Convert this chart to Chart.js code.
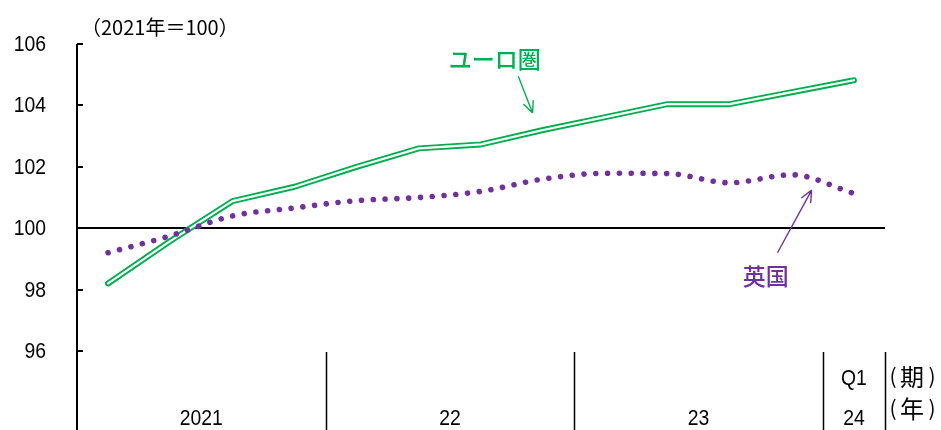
<!DOCTYPE html>
<html>
<head>
<meta charset="utf-8">
<script src="https://cdn.jsdelivr.net/npm/chart.js@4/dist/chart.umd.min.js"></script>
<style>
  html, body { margin: 0; padding: 0; background: #fff; }
  #wrap { width: 941px; height: 430px; position: relative; }
</style>
</head>
<body>
<div id="wrap"><canvas id="c"></canvas></div>
<script>
// Quarterly index, 2021 average = 100
const quarters = ['2021Q1','2021Q2','2021Q3','2021Q4','2022Q1','2022Q2','2022Q3','2022Q4',
                  '2023Q1','2023Q2','2023Q3','2023Q4','2024Q1'];
const euroArea = [98.2, 99.58, 100.88, 101.35, 102.0, 102.6, 102.73, 103.2, 103.62, 104.04, 104.04, 104.43, 104.82];
const uk       = [99.2, 99.75, 100.4, 100.66, 100.9, 101.0, 101.2, 101.6, 101.79, 101.78, 101.48, 101.74, 101.13];
const yTicks   = [96, 98, 100, 102, 104, 106];
const yearLabels = ['2021', '22', '23', '24'];
const yearFirstQ = [0, 4, 8, 12];
const yearLastQ  = [3, 7, 11, 12];
const lastQuarterLabel = 'Q1';

const GREEN = '#00B050';
const PURPLE = '#7030A0';
const NUM_FONT = "'Liberation Sans', Arial, sans-serif";
const JP_FONT = "'Noto Sans CJK JP', 'Noto Sans', sans-serif";

// condensed numerals: regular face squeezed horizontally
function narrowText(ctx, text, x, y, align, size) {
  ctx.save();
  ctx.translate(x, y);
  ctx.scale(0.88, 1);
  ctx.font = size + 'px ' + NUM_FONT;
  ctx.textAlign = align;
  ctx.textBaseline = 'middle';
  ctx.fillText(text, 0, 0);
  ctx.restore();
}

// "(期)" style unit mark
function unitMark(ctx, ch, cx, cy) {
  ctx.save();
  ctx.textAlign = 'center';
  ctx.textBaseline = 'middle';
  ctx.font = '21px ' + JP_FONT;
  ctx.fillText('(', cx - 19, cy - 1);
  ctx.fillText(')', cx + 20, cy - 1);
  ctx.font = '24px ' + JP_FONT;
  ctx.fillText(ch, cx, cy);
  ctx.restore();
}

const decorations = {
  id: 'decorations',
  afterDraw(chart) {
    const { ctx, chartArea: ca, scales: { x, y } } = chart;
    const H = chart.height;
    const step = x.getPixelForValue(1) - x.getPixelForValue(0);
    const xAt = i => x.getPixelForValue(0) + i * step;
    ctx.save();

    // vertical axis, running down through the period labels
    ctx.strokeStyle = '#000';
    ctx.lineWidth = 2;
    ctx.beginPath();
    ctx.moveTo(ca.left, ca.top);
    ctx.lineTo(ca.left, H);
    ctx.stroke();
    // inward tick marks and value labels
    ctx.fillStyle = '#000';
    yTicks.forEach(v => {
      const py = Math.round(y.getPixelForValue(v));
      ctx.beginPath();
      ctx.moveTo(ca.left, py);
      ctx.lineTo(ca.left + 6, py);
      ctx.stroke();
      narrowText(ctx, String(v), ca.left - 31, py + 1, 'right', 22);
    });

    // year separators
    ctx.lineWidth = 1.5;
    const seps = yearLastQ.slice(0, -1).map(i => (xAt(i) + xAt(i + 1)) / 2);
    seps.push(ca.right);
    seps.forEach(sx => {
      ctx.beginPath();
      ctx.moveTo(Math.round(sx) + 0.5, ca.bottom + 1);
      ctx.lineTo(Math.round(sx) + 0.5, H);
      ctx.stroke();
    });

    // year labels
    yearLabels.forEach((lab, k) => {
      const cx = (xAt(yearFirstQ[k]) + xAt(yearLastQ[k])) / 2;
      narrowText(ctx, lab, cx, H - 11, 'center', 22);
    });
    narrowText(ctx, lastQuarterLabel, xAt(quarters.length - 1), ca.bottom + 28, 'center', 22);

    // unit labels at right
    unitMark(ctx, '期', ca.right + 27, ca.bottom + 26);
    unitMark(ctx, '年', ca.right + 27, ca.bottom + 58);

    // index base note
    ctx.fillStyle = '#000';
    ctx.textAlign = 'left';
    ctx.textBaseline = 'middle';
    ctx.font = '20px ' + JP_FONT;
    ctx.fillText('（2021年＝100）', ca.left + 4, 27);

    // series annotations
    const arrow = (x0, y0, x1, y1, color) => {
      ctx.strokeStyle = color;
      ctx.lineWidth = 1.4;
      ctx.beginPath();
      ctx.moveTo(x0, y0);
      ctx.lineTo(x1, y1);
      const a = Math.atan2(y1 - y0, x1 - x0);
      const L = 13, spread = 0.42;
      ctx.moveTo(x1, y1);
      ctx.lineTo(x1 - L * Math.cos(a - spread), y1 - L * Math.sin(a - spread));
      ctx.moveTo(x1, y1);
      ctx.lineTo(x1 - L * Math.cos(a + spread), y1 - L * Math.sin(a + spread));
      ctx.stroke();
    };
    ctx.textAlign = 'center';
    ctx.font = '500 23px ' + JP_FONT;
    ctx.fillStyle = GREEN;
    ctx.fillText('ユーロ圏', xAt(6.22), y.getPixelForValue(105.5));
    arrow(xAt(6.6), y.getPixelForValue(104.95), xAt(6.83), y.getPixelForValue(103.75), GREEN);

    ctx.fillStyle = PURPLE;
    ctx.fillText('英国', xAt(10.58), y.getPixelForValue(98.42));
    arrow(xAt(10.77), y.getPixelForValue(99.2), xAt(11.32), y.getPixelForValue(101.24), PURPLE);

    ctx.restore();
  }
};

new Chart(document.getElementById('c'), {
  type: 'line',
  data: {
    labels: quarters,
    datasets: [
      {
        label: '英国',
        data: uk,
        order: 0,
        borderColor: PURPLE,
        borderWidth: 5.6,
        borderDash: [0.01, 11.8],
        borderCapStyle: 'round',
        cubicInterpolationMode: 'monotone',
        pointRadius: 0,
        fill: false
      },
      {
        // white core of the double line
        label: 'ユーロ圏 core',
        data: euroArea,
        order: 1,
        borderColor: '#fff',
        borderWidth: 2.2,
        borderCapStyle: 'round',
        borderJoinStyle: 'round',
        tension: 0,
        pointRadius: 0,
        fill: false
      },
      {
        label: 'ユーロ圏',
        data: euroArea,
        order: 2,
        borderColor: GREEN,
        borderWidth: 6,
        borderCapStyle: 'round',
        borderJoinStyle: 'round',
        tension: 0,
        pointRadius: 0,
        fill: false
      }
    ]
  },
  options: {
    responsive: true,
    maintainAspectRatio: false,
    animation: false,
    devicePixelRatio: 1,
    layout: { padding: { left: 0, top: 44, right: 56, bottom: 79 } },
    plugins: {
      legend: { display: false },
      tooltip: { enabled: false },
      title: { display: false }
    },
    scales: {
      x: {
        type: 'category',
        offset: true,
        display: false,
        grid: { display: false }
      },
      y: {
        min: 96,
        max: 106,
        afterFit(scale) { scale.width = 77; },
        afterBuildTicks(scale) { scale.ticks = yTicks.map(v => ({ value: v })); },
        border: { display: false },
        grid: {
          drawTicks: false,
          color: ctx => (ctx.tick && ctx.tick.value === 100) ? '#000' : 'rgba(0,0,0,0)',
          lineWidth: ctx => (ctx.tick && ctx.tick.value === 100) ? 2 : 0
        },
        ticks: { display: false }
      }
    }
  },
  plugins: [decorations]
});
</script>
</body>
</html>
